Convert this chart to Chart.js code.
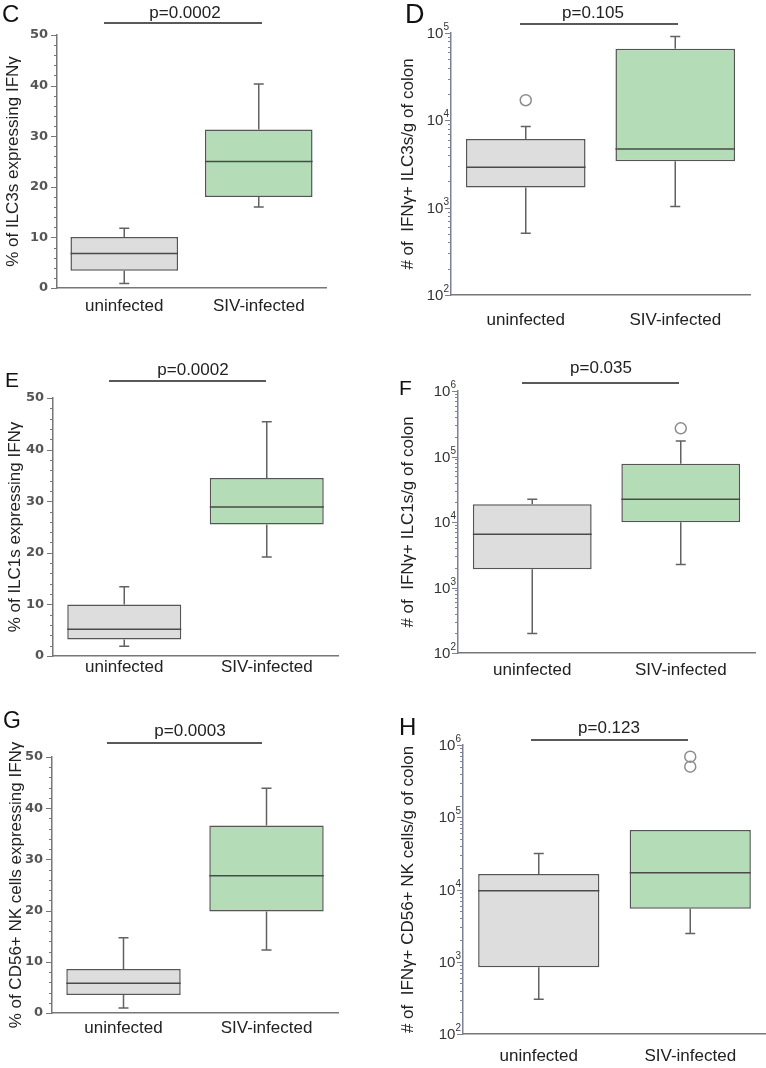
<!DOCTYPE html>
<html>
<head>
<meta charset="utf-8">
<script src="https://cdn.jsdelivr.net/npm/chart.js@4.4.1/dist/chart.umd.min.js"></script>
<style>
  body { margin: 0; background: #fff; }
  #wrap { position: relative; width: 766px; height: 1068px; overflow: hidden; }
  #wrap canvas { position: absolute; }
</style>
</head>
<body>
<div id="wrap"></div>
<script>
const groups = ['uninfected', 'SIV-infected'];

// box stats per group: [min, q1, median, q3, max]
const pctILC3 = [[0.9, 3.4, 6.8, 10.1, 11.8], [16.0, 18.0, 25.0, 31.3, 40.3]];
const numILC3 = [[510, 1700, 2900, 6100, 8500], [1030, 3400, 4700, 66000, 91000]];
const pctILC1 = [[1.9, 3.2, 5.2, 10.0, 13.4], [19.2, 25.5, 28.9, 34.5, 45.4]];
const numILC1 = [[198, 1900, 6500, 18700, 22300], [2240, 9900, 22300, 77500, 172000]];
const pctNK = [[1.0, 3.5, 5.8, 8.6, 14.7], [12.3, 19.8, 26.8, 36.6, 43.9]];
const numNK = [[302, 840, 9640, 16400, 31600], [2470, 5430, 17100, 66600, 66600]];

// outliers per group
const outILC3 = [[17000], []];
const outILC1 = [[], [269000]];
const outNK = [[], [501000, 689000]];

const pValues = ['p=0.0002', 'p=0.105', 'p=0.0002', 'p=0.035', 'p=0.0003', 'p=0.123'];
const pctMajor = [0, 10, 20, 30, 40, 50];
const powExp = ['2', '3', '4', '5', '6'];   // log axis labels are 10 raised to these

const fillColors = ['#dcdddc', '#b4dcb6'];
const FONT = '"Liberation Sans", Arial, sans-serif';

const panels = [
  { letter: 'C', lsize: 24, lpos: [2, 22], left: 0, top: 0, w: 383, h: 335, area: [57, 35, 326, 288],
    stats: pctILC3, out: [[], []], log: false, max: 50, title: '% of ILC3s expressing IFNγ', tpad: 3, xpad: 8,
    p: pValues[0], pline: [104, 262, 23], ptext: [185, 18] },
  { letter: 'D', lsize: 27, lpos: [22, 23], left: 383, top: 0, w: 383, h: 335, area: [68, 33, 367, 295],
    stats: numILC3, out: outILC3, log: true, max: 5, title: '# of  IFNγ+ ILC3s/g of colon', tpad: 15, xpad: 15,
    p: pValues[1], pline: [137, 295, 24], ptext: [210, 18] },
  { letter: 'E', lsize: 21, lpos: [5, 47], left: 0, top: 340, w: 383, h: 355, area: [53, 58, 338, 316],
    stats: pctILC1, out: [[], []], log: false, max: 50, title: '% of ILC1s expressing IFNγ', tpad: 5, xpad: 1,
    p: pValues[2], pline: [109, 266, 41], ptext: [193, 35] },
  { letter: 'F', lsize: 21, lpos: [16, 55], left: 383, top: 340, w: 383, h: 355, area: [75, 51, 372, 313],
    stats: numILC1, out: outILC1, log: true, max: 6, title: '# of  IFNγ+ ILC1s/g of colon', tpad: 15, xpad: 7,
    p: pValues[3], pline: [139, 296, 43], ptext: [218, 33] },
  { letter: 'G', lsize: 23, lpos: [3, 28], left: 0, top: 700, w: 383, h: 368, area: [52, 57, 338, 313],
    stats: pctNK, out: [[], []], log: false, max: 50, title: '% of CD56+ NK cells expressing IFNγ', tpad: 6, xpad: 5,
    p: pValues[4], pline: [107, 262, 43], ptext: [190, 36] },
  { letter: 'H', lsize: 24, lpos: [16, 35], left: 383, top: 700, w: 383, h: 368, area: [80, 45, 383, 334],
    stats: numNK, out: outNK, log: true, max: 6, title: '# of  IFNγ+ CD56+ NK cells/g of colon', tpad: 15, xpad: 12,
    p: pValues[5], pline: [148, 305, 40], ptext: [226, 33] }
];

function isPow10(v) {
  const e = Math.log10(v);
  return Math.abs(e - Math.round(e)) < 1e-6;
}

const boxPlot = {
  id: 'boxPlot',
  afterDatasetsDraw(chart, args, o) {
    const ctx = chart.ctx, y = chart.scales.y;
    const bars = chart.getDatasetMeta(0).data;
    ctx.save();
    ctx.lineWidth = 1.5;
    bars.forEach((bar, i) => {
      const s = o.stats[i];
      const x = bar.x, half = bar.width / 2, cap = 5;
      const py = s.map(v => y.getPixelForValue(v));
      ctx.strokeStyle = '#626262';
      ctx.beginPath();
      if (s[4] > s[3]) {
        ctx.moveTo(x, py[3]); ctx.lineTo(x, py[4]);
        ctx.moveTo(x - cap, py[4]); ctx.lineTo(x + cap, py[4]);
      }
      ctx.moveTo(x, py[1]); ctx.lineTo(x, py[0]);
      ctx.moveTo(x - cap, py[0]); ctx.lineTo(x + cap, py[0]);
      ctx.stroke();
      ctx.strokeStyle = '#4a4a4a';
      ctx.beginPath();
      ctx.moveTo(x - half, py[2]); ctx.lineTo(x + half, py[2]);
      ctx.stroke();
      ctx.strokeStyle = '#8c8c8c';
      o.out[i].forEach(v => {
        ctx.beginPath();
        ctx.arc(x, y.getPixelForValue(v), 5.5, 0, Math.PI * 2);
        ctx.stroke();
      });
    });
    ctx.restore();
  },
  afterDraw(chart, args, o) {
    const ctx = chart.ctx, y = chart.scales.y;
    ctx.save();
    // y tick marks, long on labelled ticks
    ctx.strokeStyle = o.axisColor;
    ctx.lineWidth = 1;
    y.ticks.forEach(t => {
      const major = o.log ? isPow10(t.value) : pctMajor.includes(t.value);
      const py = Math.round(y.getPixelForValue(t.value)) + 0.5;
      const len = major ? 6 : 3;
      ctx.beginPath();
      ctx.moveTo(y.right, py); ctx.lineTo(y.right - len, py);
      ctx.stroke();
      // log labels: 10 with a raised exponent
      if (o.log && major) {
        const ex = powExp[Math.round(Math.log10(t.value)) - 2];
        const xr = y.right - 2;
        ctx.fillStyle = '#333';
        ctx.textAlign = 'right';
        ctx.textBaseline = 'middle';
        ctx.font = '10px ' + FONT;
        const ew = ctx.measureText(ex).width;
        ctx.fillText(ex, xr, py - 6);
        ctx.font = '15px ' + FONT;
        ctx.fillText('10', xr - ew, py);
      }
    });
    // significance bar
    ctx.strokeStyle = '#222';
    ctx.lineWidth = 1.5;
    ctx.beginPath();
    ctx.moveTo(o.pline[0], o.pline[2]); ctx.lineTo(o.pline[1], o.pline[2]);
    ctx.stroke();
    ctx.fillStyle = '#222';
    ctx.font = '17px ' + FONT;
    ctx.textAlign = 'center';
    ctx.textBaseline = 'alphabetic';
    ctx.fillText(o.p, o.ptext[0], o.ptext[1]);
    // panel letter
    ctx.fillStyle = '#111';
    ctx.font = o.lsize + 'px ' + FONT;
    ctx.textAlign = 'left';
    ctx.fillText(o.letter, o.lpos[0], o.lpos[1]);
    ctx.restore();
  }
};

const wrap = document.getElementById('wrap');

panels.forEach(pn => {
  const cv = document.createElement('canvas');
  cv.width = pn.w; cv.height = pn.h;
  cv.style.left = pn.left + 'px';
  cv.style.top = pn.top + 'px';
  wrap.appendChild(cv);

  const axisColor = pn.log ? '#7c8196' : '#777';
  const [aL, aT, aR, aB] = pn.area;

  const yScale = pn.log ? {
    type: 'logarithmic',
    min: 100,
    max: Math.pow(10, pn.max),
    afterBuildTicks: s => {
      const t = [];
      for (let e = 2; e < pn.max; e++) {
        for (let d = 1; d < 10; d++) t.push({ value: d * Math.pow(10, e) });
      }
      t.push({ value: Math.pow(10, pn.max) });
      s.ticks = t;
    },
    ticks: { autoSkip: false, callback: () => '' }
  } : {
    type: 'linear',
    min: 0,
    max: pn.max,
    afterBuildTicks: s => {
      const t = [];
      for (let v = 0; v <= pn.max; v += 2) t.push({ value: v });
      s.ticks = t;
    },
    ticks: {
      autoSkip: false,
      padding: 9,
      color: '#555',
      font: { family: '"DejaVu Sans", sans-serif', size: 13, weight: 'bold' },
      callback: v => pctMajor.includes(v) ? String(v) : ''
    }
  };

  Object.assign(yScale, {
    grid: { drawOnChartArea: false, drawTicks: false },
    border: { color: axisColor, width: 1.5 },
    title: {
      display: true,
      text: pn.title,
      color: '#222',
      font: { family: FONT, size: 17 },
      padding: { top: pn.tpad, bottom: 0 }
    },
    afterFit: s => { s.width = aL; }
  });

  new Chart(cv, {
    type: 'bar',
    data: {
      labels: groups,
      datasets: [{
        data: pn.stats.map(s => [s[1], s[3]]),
        backgroundColor: fillColors,
        borderColor: '#555',
        borderWidth: 1.5,
        borderSkipped: false,
        barPercentage: 0.8,
        categoryPercentage: 1.0
      }]
    },
    options: {
      responsive: false,
      animation: false,
      layout: { padding: { left: 0, top: aT, right: pn.w - aR, bottom: pn.h - aB - 30 } },
      plugins: {
        legend: { display: false },
        tooltip: { enabled: false },
        boxPlot: {
          stats: pn.stats, out: pn.out, axisColor: axisColor, log: pn.log,
          p: pn.p, pline: pn.pline, ptext: pn.ptext,
          letter: pn.letter, lsize: pn.lsize, lpos: pn.lpos
        }
      },
      scales: {
        x: {
          grid: { drawOnChartArea: false, drawTicks: false },
          border: { color: '#777', width: 1.5 },
          ticks: { padding: pn.xpad, color: '#222', maxRotation: 0, font: { family: FONT, size: 17 } },
          afterFit: s => { s.height = 30; }
        },
        y: yScale
      }
    },
    plugins: [boxPlot]
  });
});
</script>
</body>
</html>
